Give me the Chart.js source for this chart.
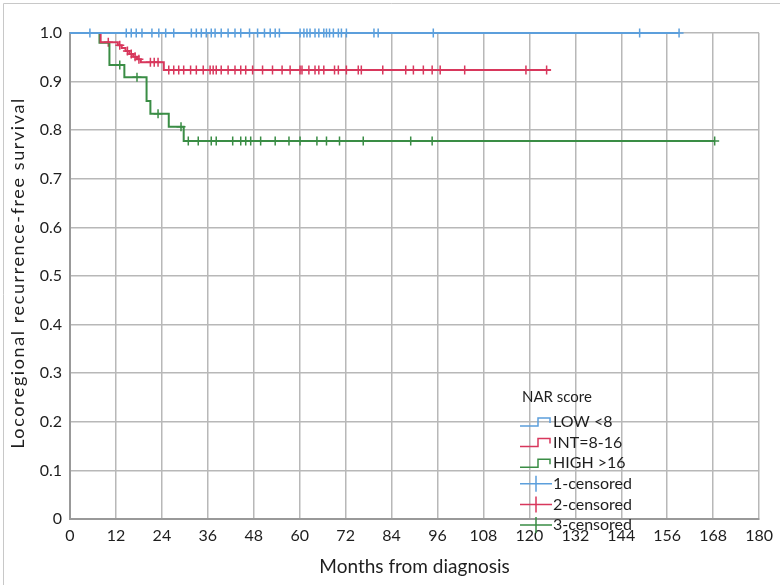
<!DOCTYPE html>
<html><head><meta charset="utf-8">
<script src="https://cdn.jsdelivr.net/npm/chart.js@4"></script>
<style>html,body{margin:0;padding:0;background:#fff}#wrap{width:780px;height:585px}</style>
</head><body><div id="wrap"><canvas id="c" width="780" height="585"></canvas></div>
<script>
// Kaplan-Meier step curves (event times in months, survival after event)
const lowTimes = [0, 159.1];
const lowSurv  = [1.0, 1.0];
const intTimes = [0, 8, 12.5, 13.5, 14.5, 15.5, 16.5, 17.5, 18.5, 24.5, 125.6];
const intSurv  = [1.0, 0.981, 0.975, 0.969, 0.963, 0.957, 0.951, 0.946, 0.940, 0.924, 0.924];
const highTimes = [0, 7.7, 10.3, 14.2, 20, 21, 25.8, 29.7, 168.4];
const highSurv  = [1.0, 0.98, 0.934, 0.909, 0.86, 0.834, 0.807, 0.778, 0.778];
// censored observations (months)
const lowCens = [5.2, 14.7, 16, 17.3, 18.8, 21.4, 23.2, 25, 27.1, 31.7, 33, 34.3, 35.6, 36.9, 37.9, 39.5, 41.3, 43.1, 44.6, 46.9, 49, 50.8, 52.3, 53.6, 54.7, 60.1, 61.1, 61.9, 62.7, 64, 65, 66.3, 67, 67.8, 68.8, 70.1, 70.9, 72.2, 79.4, 80.5, 94.9, 148.8, 159.1];
const intCens = [10, 13, 15, 16, 17, 18, 21, 22, 23, 25.8, 27.1, 28.4, 29.7, 31.5, 33, 34.8, 36.6, 37.4, 38.2, 39.5, 41.3, 43.1, 44.6, 45.9, 47.7, 50.3, 52.9, 55.4, 57.5, 60.1, 60.6, 62.4, 64, 65, 66.3, 69.1, 70.1, 72.2, 75.3, 76.1, 81.7, 87.7, 89.7, 92.3, 94.6, 96.7, 103.1, 119.1, 124.5];
const highCens = [13, 17.5, 23, 29, 30.9, 33.5, 36.9, 38.2, 42.5, 44.6, 45.9, 47.2, 49.8, 53.6, 57.2, 60.1, 64.5, 67, 70.4, 76.6, 89, 94.6, 168.4];
const xTicks = [0, 12, 24, 36, 48, 60, 72, 84, 96, 108, 120, 132, 144, 156, 168, 180];
const yTicks = [0, 0.1, 0.2, 0.3, 0.4, 0.5, 0.6, 0.7, 0.8, 0.9, 1.0];
const xTitle = 'Months from diagnosis';
const yTitle = 'Locoregional recurrence-free survival';
const legendTitle = 'NAR score';
const legendLabels = ['LOW <8', 'INT=8-16', 'HIGH >16', '1-censored', '2-censored', '3-censored'];

const BLUE = '#5c9fdc', RED = '#d8375c', GREEN = '#3a8d45';
const FONT = 'Lato, "Open Sans", sans-serif';
const TXT = '#1e1e1e';

function pts(t, s) { return t.map((x, i) => ({x: x, y: s[i]})); }
function survAt(t, s, x) { let v = s[0]; for (let i = 0; i < t.length; i++) { if (t[i] <= x) v = s[i]; } return v; }
function cens(c, t, s) { return c.map(x => ({x: x, y: survAt(t, s, x)})); }

function stepDs(label, data, color) {
  return {type: 'line', label, data, borderColor: color, borderWidth: 2, stepped: 'before', pointRadius: 0, fill: false, clip: 6};
}
function censDs(label, data, color) {
  return {type: 'scatter', label, data, borderColor: color, backgroundColor: color, pointStyle: 'cross', pointRadius: 4.5, borderWidth: 1.5, showLine: false, clip: 10};
}

const legendPlugin = {
  id: 'kmLegend',
  afterDraw(chart) {
    const ctx = chart.ctx, ca = chart.chartArea;
    const x0 = ca.left + 450, y0 = ca.top + 364;
    ctx.save();
    ctx.textBaseline = 'middle';
    ctx.fillStyle = TXT;
    ctx.font = '15px ' + FONT;
    ctx.fillText(legendTitle, x0 + 2, y0);
    ctx.font = '16px ' + FONT;
    const colors = [BLUE, RED, GREEN, BLUE, RED, GREEN];
    for (let i = 0; i < legendLabels.length; i++) {
      const y = y0 + 25 + i * 20.6;
      ctx.strokeStyle = colors[i];
      ctx.lineWidth = 1.5;
      ctx.beginPath();
      if (i < 3) {
        ctx.moveTo(x0, y + 4); ctx.lineTo(x0 + 18, y + 4); ctx.lineTo(x0 + 18, y - 4);
        ctx.lineTo(x0 + 30, y - 4); ctx.lineTo(x0 + 30, y + 1);
      } else {
        ctx.moveTo(x0, y); ctx.lineTo(x0 + 32, y);
        ctx.moveTo(x0 + 16, y - 8); ctx.lineTo(x0 + 16, y + 8);
      }
      ctx.stroke();
      ctx.fillStyle = TXT;
      ctx.fillText(legendLabels[i], x0 + 33, y);
    }
    // y axis title
    ctx.save();
    ctx.translate(18, (ca.top + ca.bottom) / 2 - 3);
    ctx.rotate(-Math.PI / 2);
    ctx.font = '18px ' + FONT;
    try { ctx.letterSpacing = '1.6px'; } catch (e) {}
    ctx.textAlign = 'center';
    ctx.fillText(yTitle, 0, 0);
    ctx.restore();
    ctx.restore();
  }
};
const framePlugin = {
  id: 'frame',
  beforeDraw(chart) {
    const ctx = chart.ctx;
    ctx.save();
    ctx.strokeStyle = '#c8c8c8'; ctx.lineWidth = 1;
    ctx.beginPath(); ctx.moveTo(3.5, 585); ctx.lineTo(3.5, 3.5); ctx.lineTo(780, 3.5); ctx.stroke();
    ctx.restore();
  }
};

new Chart(document.getElementById('c'), {
  data: {
    datasets: [
      stepDs('LOW <8', pts(lowTimes, lowSurv), BLUE),
      stepDs('INT=8-16', pts(intTimes, intSurv), RED),
      stepDs('HIGH >16', pts(highTimes, highSurv), GREEN),
      censDs('1-censored', cens(lowCens, lowTimes, lowSurv), BLUE),
      censDs('2-censored', cens(intCens, intTimes, intSurv), RED),
      censDs('3-censored', cens(highCens, highTimes, highSurv), GREEN)
    ]
  },
  options: {
    responsive: false, animation: false,
    layout: {padding: {top: 33, right: 12, left: 7, bottom: 7}},
    plugins: {legend: {display: false}, tooltip: {enabled: false}},
    scales: {
      x: {
        type: 'linear', min: 0, max: 180,
        afterBuildTicks(s) { s.ticks = xTicks.map(v => ({value: v})); },
        afterFit(s) { s.height = 585 - 7 - 519; },
        grid: {color: '#b8b8b8', lineWidth: 1.5, drawTicks: false},
        border: {color: '#999999', width: 2},
        ticks: {padding: 7, color: TXT, font: {family: FONT, size: 16}, maxRotation: 0, autoSkip: false},
        title: {display: true, text: xTitle, color: TXT, font: {family: FONT, size: 19}, padding: {top: 0, bottom: 0}}
      },
      y: {
        type: 'linear', min: 0, max: 1,
        afterBuildTicks(s) { s.ticks = yTicks.map(v => ({value: v})); },
        afterFit(s) { s.width = 70 - 7; },
        grid: {color: '#b8b8b8', lineWidth: 1.5, drawTicks: false},
        border: {color: '#999999', width: 2},
        ticks: {padding: 8, color: TXT, font: {family: FONT, size: 16}, callback: v => v === 0 ? '0' : v.toFixed(1)},
        title: {display: false}
      }
    }
  },
  plugins: [legendPlugin, framePlugin]
});
</script>
</body></html>
